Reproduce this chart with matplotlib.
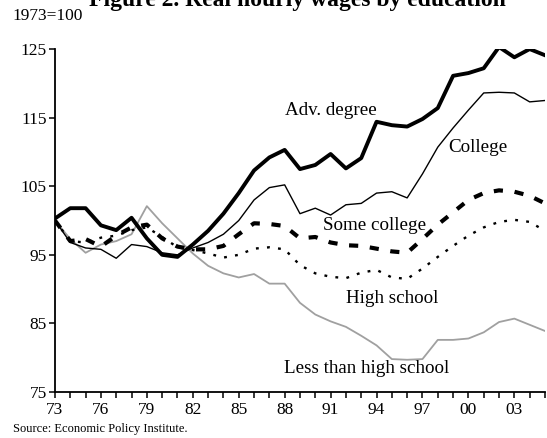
import numpy as np
import matplotlib
matplotlib.use("Agg")
import matplotlib.pyplot as plt

plt.rcParams['font.family'] = ['Liberation Serif', 'DejaVu Serif']

years = list(range(1973, 2006))

adv_degree = [100.3, 101.8, 101.8, 99.3, 98.6, 100.4, 97.4, 95.0, 94.7, 96.5,
              98.5, 101.0, 104.0, 107.3, 109.2, 110.3, 107.5, 108.1, 109.7, 107.6,
              109.1, 114.4, 113.9, 113.7, 114.8, 116.4, 121.1, 121.5, 122.2, 125.3,
              123.8, 125.0, 124.1]
college = [100.0, 96.8, 96.0, 95.8, 94.5, 96.5, 96.2, 95.3, 95.0, 96.0,
           96.8, 98.0, 100.0, 103.0, 104.8, 105.2, 101.0, 101.8, 100.8, 102.3,
           102.5, 104.0, 104.2, 103.3, 106.8, 110.7, 113.5, 116.1, 118.6, 118.7,
           118.6, 117.3, 117.5]
some_college = [100.0, 97.0, 97.3, 96.2, 97.8, 99.0, 99.4, 97.4, 96.2, 95.8,
                95.8, 96.3, 98.0, 99.6, 99.5, 99.2, 97.4, 97.6, 96.8, 96.4,
                96.3, 95.9, 95.5, 95.3, 97.3, 99.4, 101.2, 103.0, 104.0, 104.4,
                104.2, 103.6, 102.5]
high_school = [100.0, 97.0, 96.8, 97.5, 97.8, 98.6, 99.0, 97.6, 96.1, 95.7,
               95.2, 94.6, 95.0, 95.9, 96.1, 95.8, 93.5, 92.3, 91.8, 91.6,
               92.4, 92.8, 91.7, 91.5, 93.0, 94.7, 96.3, 97.8, 99.0, 99.8,
               100.1, 99.8, 98.5]
less_than_hs = [100.0, 97.3, 95.3, 96.5, 97.0, 98.0, 102.1, 99.6, 97.4, 95.2,
                93.4, 92.3, 91.7, 92.2, 90.8, 90.8, 88.0, 86.3, 85.3, 84.5,
                83.2, 81.8, 79.8, 79.7, 79.8, 82.6, 82.6, 82.8, 83.7, 85.2,
                85.7, 84.8, 83.9]

fig = plt.figure(figsize=(5.47, 4.38), dpi=100)
ax = fig.add_axes([0.1005, 0.105, 0.8958, 0.783])

ax.plot(years, less_than_hs, color='#a0a0a0', lw=1.3)
ax.plot(years, high_school, color='black', lw=1.7, linestyle=(0, (1.2, 3.5)))
ax.plot(years, some_college, color='black', lw=3.0, linestyle=(0, (2.2, 2.8)))
ax.plot(years, college, color='black', lw=1.0)
ax.plot(years, adv_degree, color='black', lw=2.8)

ax.set_xlim(1973, 2005)
ax.set_ylim(75, 125)
ax.set_yticks([75, 85, 95, 105, 115, 125])
ax.set_xticks(years)
ax.set_xticklabels(["%02d" % (y % 100) if (y - 1973) % 3 == 0 else "" for y in years])
for s in ['top', 'right']:
    ax.spines[s].set_visible(False)
ax.spines['left'].set_linewidth(1.3)
ax.spines['bottom'].set_linewidth(1.3)
ax.tick_params(axis='both', direction='out', length=4, width=1.1, labelsize=12.5, pad=2)
ax.tick_params(axis='x', pad=3)

# series labels placed next to their lines
lbl = dict(fontsize=13.7, ha='center', va='center')
ax.text(1991.0, 116.1, "Adv. degree", **lbl)
ax.text(2000.6, 110.7, "College", **lbl)
ax.text(1993.85, 99.3, "Some college", **lbl)
ax.text(1995.0, 88.7, "High school", **lbl)
ax.text(1993.35, 78.5, "Less than high school", **lbl)

fig.text(0.022, 0.963, "1973=100", fontsize=12.5, ha='left', va='center')
fig.text(0.543, 0.986, "Figure 2. Real hourly wages by education", fontsize=17,
         fontweight='bold', ha='center', va='baseline')
fig.text(0.024, 0.013, "Source: Economic Policy Institute.", fontsize=9,
         ha='left', va='baseline')

fig.savefig("out.png", dpi=100)
